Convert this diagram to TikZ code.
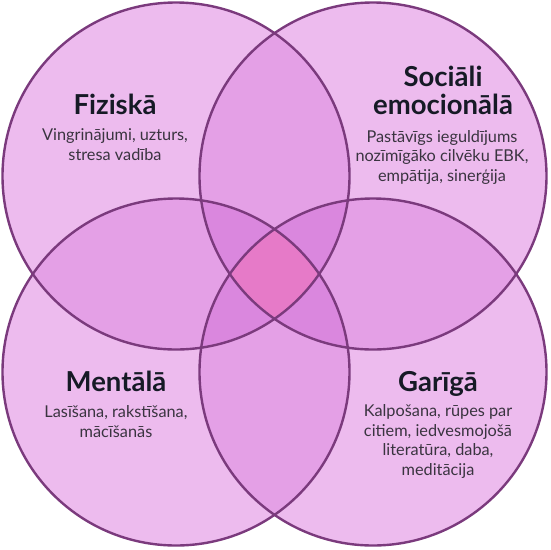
\documentclass[tikz,border=0pt]{standalone}
\usepackage{fontspec}
\setmainfont{Lato}
\definecolor{cone}{HTML}{EDBBEE}
\definecolor{ctwo}{HTML}{E4A0E6}
\definecolor{cthree}{HTML}{DA87DE}
\definecolor{cfour}{HTML}{E67AC8}
\definecolor{cline}{HTML}{7B3A7D}
\definecolor{chead}{HTML}{161A26}
\definecolor{cbody}{HTML}{3A3440}
\tikzset{
  head/.style={text=chead,font=\fontsize{27.5}{28}\selectfont\bfseries,align=center,anchor=base,inner sep=0pt},
  body/.style={text=cbody,font=\fontsize{16.3}{19.5}\selectfont,align=center,anchor=base,inner sep=0pt},
  ring/.style={draw=cline,line width=2.4pt}
}
\begin{document}
\begin{tikzpicture}[x=1pt,y=-1pt]
\useasboundingbox (0,0) rectangle (550,550);
\def\R{173.5}
\coordinate (A) at (176,176);
\coordinate (B) at (373,176);
\coordinate (C) at (176,372);
\coordinate (D) at (373,372);
% single
\foreach \p in {A,B,C,D}{\fill[cone] (\p) circle (\R);}
% pairs
\foreach \p/\q in {A/B,A/C,A/D,B/C,B/D,C/D}{
  \begin{scope}\clip (\p) circle (\R); \fill[ctwo] (\q) circle (\R);\end{scope}}
% triples
\foreach \p/\q/\r in {A/B/C,A/B/D,A/C/D,B/C/D}{
  \begin{scope}\clip (\p) circle (\R); \clip (\q) circle (\R); \fill[cthree] (\r) circle (\R);\end{scope}}
% quadruple
\begin{scope}\clip (A) circle (\R); \clip (B) circle (\R); \clip (C) circle (\R); \fill[cfour] (D) circle (\R);\end{scope}
% outlines
\foreach \p in {A,B,C,D}{\draw[ring] (\p) circle (\R);}
% texts (base anchor = baseline of the last line)
\node[head] (fizh) at (115,114) {Fiziskā};
\node[body] (fizb) at (115,160) {Vingrinājumi, uzturs,\\stresa vadība};
\node[head] (soch) at (443,114) {Sociāli\\emocionālā};
\node[body] (socb) at (442,181) {Pastāvīgs ieguldījums\\nozīmīgāko cilvēku EBK,\\empātija, sinerģija};
\node[head] (menh) at (116,391) {Mentālā};
\node[body] (menb) at (116,437) {Lasīšana, rakstīšana,\\mācīšanās};
\node[head] (garh) at (438,391) {Garīgā};
\node[body] (garb) at (438,475) {Kalpošana, rūpes par\\citiem, iedvesmojošā\\literatūra, daba,\\meditācija};
\end{tikzpicture}
\end{document}
